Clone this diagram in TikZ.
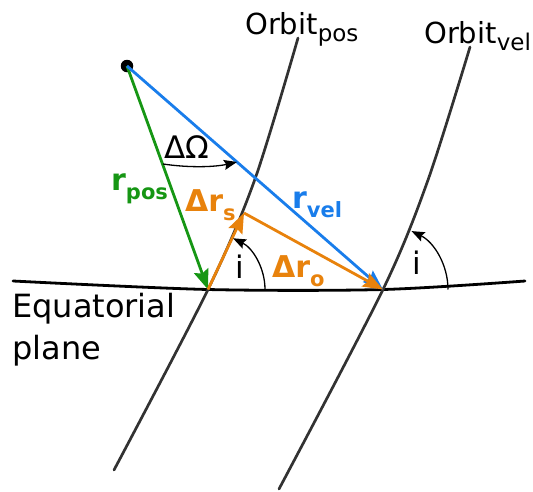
\documentclass[tikz,border=0pt]{standalone}
\usepackage{fontspec}
\setmainfont{DejaVu Sans}
\usetikzlibrary{arrows.meta}
\definecolor{cgreen}{RGB}{22,150,20}
\definecolor{cblue}{RGB}{25,125,235}
\definecolor{corange}{RGB}{232,130,12}
\definecolor{corbit}{RGB}{50,50,50}
\newcommand{\lsub}[1]{\raisebox{-0.3em}{\fontsize{21}{21}\selectfont #1}}
\newcommand{\osub}[1]{\raisebox{-0.25em}{\fontsize{23}{23}\selectfont #1}}
\begin{document}
\begin{tikzpicture}[x=1pt,y=-1pt,
  orbit/.style={line width=2.7pt, draw=corbit, line cap=round},
  vec/.style={line width=2.8pt, -{Stealth[length=20pt,width=15pt,inset=3pt]}},
  ang/.style={line width=1.3pt, -{Stealth[length=13pt,width=10pt,inset=2pt]}},
  lbl/.style={font=\fontsize{31}{34}\selectfont, inner sep=0pt},
  blbl/.style={font=\fontsize{30}{34}\selectfont\bfseries, inner sep=0pt, anchor=base west},
  olbl/.style={font=\fontsize{29}{32}\selectfont, inner sep=0pt, anchor=base west}]
\useasboundingbox (0,0) rectangle (533,491);
\coordinate (P1) at (208,289.5);
\coordinate (P2) at (383,289.5);
\coordinate (S) at (244,213);
\node[circle, fill=black, inner sep=0pt, minimum size=12.5pt] (O) at (127,66) {};
% equatorial plane
\draw[line width=2.8pt, line cap=round] plot[smooth] coordinates {(13,281) (208,289.5) (383,289.5) (525,281)};
% orbits
\draw[orbit] plot[smooth] coordinates {(298,38) (255,179) (208,289.5) (114,470)};
\draw[orbit] plot[smooth] coordinates {(470,47) (428,180) (383,289.5) (279,489)};
% vectors
\draw[vec, cgreen] (O.center) -- (P1);
\draw[vec, cblue] (O.center) -- (P2);
\draw[vec, corange] (P1) -- (S);
\draw[vec, corange] (S) -- (P2);
% angles
\coordinate (A0) at (163,164);
\coordinate (A1) at (237,162);
\draw[ang] (A0) .. controls (190,168) and (215,167) .. (A1);
\draw[ang] (P1) ++(57,0) arc[start angle=0, end angle=-64, radius=57];
\draw[ang] (P2) ++(65,0) arc[start angle=0, end angle=-64, radius=65];
% labels
\node[lbl] (dO) at (187,147) {ΔΩ};
\node[lbl] (i1) at (240,267) {i};
\node[lbl] (i2) at (417,263) {i};
\node[blbl, text=cgreen] (rpos) at (111,190) {r\lsub{pos}};
\node[blbl, text=cblue] (rvel) at (292,208) {r\lsub{vel}};
\node[blbl, text=corange] (drs) at (185,211) {Δr\lsub{s}};
\node[blbl, text=corange] (dro) at (272,277) {Δr\lsub{o}};
\node[olbl] (op) at (245,34) {Orbit\osub{pos}};
\node[olbl] (ov) at (424,43) {Orbit\osub{vel}};
\node[lbl, font=\fontsize{32}{42}\selectfont, anchor=north west, align=left] (eq) at (12,293) {Equatorial\\plane};
\end{tikzpicture}
\end{document}
